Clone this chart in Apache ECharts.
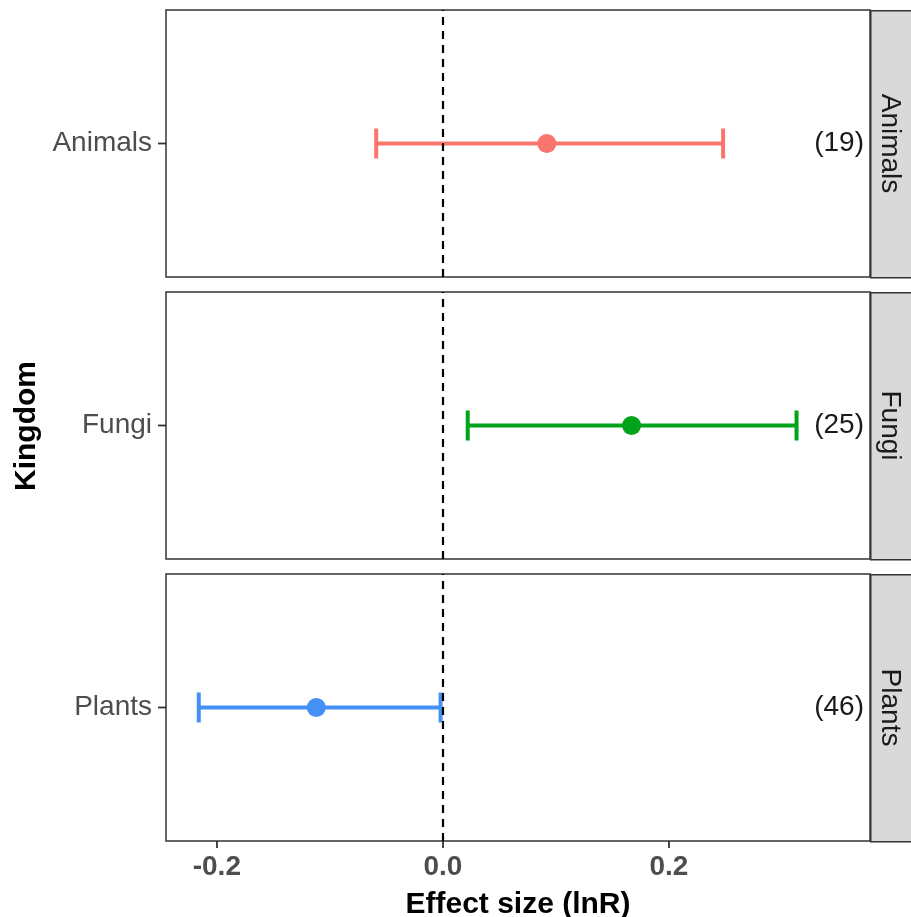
<!DOCTYPE html>
<html><head><meta charset="utf-8">
<script src="https://cdn.jsdelivr.net/npm/echarts@6/dist/echarts.min.js"></script>
<style>html,body{margin:0;padding:0;background:#fff}#c{width:911px;height:917px}</style>
</head><body><div id="c"></div>
<script>
const kingdoms = ['Animals', 'Fungi', 'Plants'];
const means = [0.092, 0.167, -0.112];
const lowers = [-0.059, 0.022, -0.216];
const uppers = [0.248, 0.313, -0.002];
const counts = ['(19)', '(25)', '(46)'];
const xTicks = [-0.2, 0.0, 0.2];
const colors = ['#F8766D', '#00A31A', '#4490F4'];

const X_MIN = -0.245, X_MAX = 0.378;
const gridTops = [10, 292, 574];
const gridH = 267, gridLeft = 166, gridRight = 41;
const FONT = 'Liberation Sans, Arial, sans-serif';

const chart = echarts.init(document.getElementById('c'), null, {renderer: 'canvas'});

const grids = [], xAxes = [], yAxes = [], series = [], graphics = [];
kingdoms.forEach((k, i) => {
  grids.push({left: gridLeft, right: gridRight, top: gridTops[i], height: gridH,
    outerBoundsMode: 'none',
    show: true, borderColor: '#333', borderWidth: 1.5, backgroundColor: '#fff', containLabel: false});
  const last = i === kingdoms.length - 1;
  xAxes.push({type: 'value', gridIndex: i, min: X_MIN, max: X_MAX,
    splitLine: {show: false},
    axisLine: {show: false},
    axisTick: {show: last, length: 7, customValues: xTicks, lineStyle: {color: '#333', width: 1.8}},
    axisLabel: {show: last, fontFamily: FONT, fontSize: 28, fontWeight: 'bold', color: '#4d4d4d', margin: 12,
      formatter: v => (Math.abs(v) < 1e-9 ? '0.0' : v.toFixed(1)),
      customValues: xTicks},
    name: last ? 'Effect size (lnR)' : '', nameLocation: 'middle', nameGap: 49,
    nameTextStyle: {fontFamily: FONT, fontSize: 30, fontWeight: 'bold', color: '#000'}
  });
  yAxes.push({type: 'category', gridIndex: i, data: [k],
    axisLine: {show: false},
    axisTick: {show: false},
    axisLabel: {fontFamily: FONT, fontSize: 28, color: '#4d4d4d', margin: 14},
    splitLine: {show: false}
  });
  // error bar + count label + y tick
  series.push({type: 'custom', xAxisIndex: i, yAxisIndex: i,
    data: [[lowers[i], uppers[i], 0, counts[i]]],
    clip: false,
    renderItem: (params, api) => {
      const a = api.coord([api.value(0), api.value(2)]);
      const b = api.coord([api.value(1), api.value(2)]);
      const r = api.coord([X_MAX, api.value(2)]);
      const l = api.coord([X_MIN, api.value(2)]);
      const cap = 15;
      const st = {stroke: colors[i], lineWidth: 4};
      return {type: 'group', children: [
        {type: 'line', shape: {x1: l[0] - 8, y1: l[1], x2: l[0], y2: l[1]}, style: {stroke: '#333', lineWidth: 1.8}},
        {type: 'line', shape: {x1: a[0], y1: a[1], x2: b[0], y2: b[1]}, style: st},
        {type: 'line', shape: {x1: a[0], y1: a[1] - cap, x2: a[0], y2: a[1] + cap}, style: st},
        {type: 'line', shape: {x1: b[0], y1: b[1] - cap, x2: b[0], y2: b[1] + cap}, style: st},
        {type: 'text', x: r[0] - 6, y: r[1], style: {text: counts[i], fill: '#1a1a1a',
          font: '28px ' + FONT, textAlign: 'right', textVerticalAlign: 'middle'}}
      ]};
    },
    z: 3,
    markLine: {silent: true, symbol: 'none', label: {show: false},
      lineStyle: {color: '#000', type: [8, 6], width: 2.2},
      data: [{xAxis: 0}]}
  });
  series.push({type: 'scatter', xAxisIndex: i, yAxisIndex: i, data: [[means[i], 0]],
    symbol: 'circle', symbolSize: 19, itemStyle: {color: colors[i], opacity: 1}, z: 4});
  // facet strip
  graphics.push({type: 'rect', left: 911 - gridRight, top: gridTops[i], shape: {width: 60, height: gridH},
    style: {fill: '#d9d9d9', stroke: '#333', lineWidth: 1.5}});
  graphics.push({type: 'text', x: 911 - gridRight + 20, y: gridTops[i] + gridH / 2, rotation: -Math.PI / 2,
    style: {text: k, font: '28px ' + FONT, fill: '#1a1a1a', textAlign: 'center', textVerticalAlign: 'middle'}});
});
graphics.push({type: 'text', x: 27, y: 426, rotation: Math.PI / 2,
  style: {text: 'Kingdom', font: 'bold 30px ' + FONT, fill: '#000', textAlign: 'center', textVerticalAlign: 'middle'}});

chart.setOption({
  animation: false,
  backgroundColor: '#fff',
  grid: grids, xAxis: xAxes, yAxis: yAxes, series: series, graphic: graphics
});
</script></body></html>
